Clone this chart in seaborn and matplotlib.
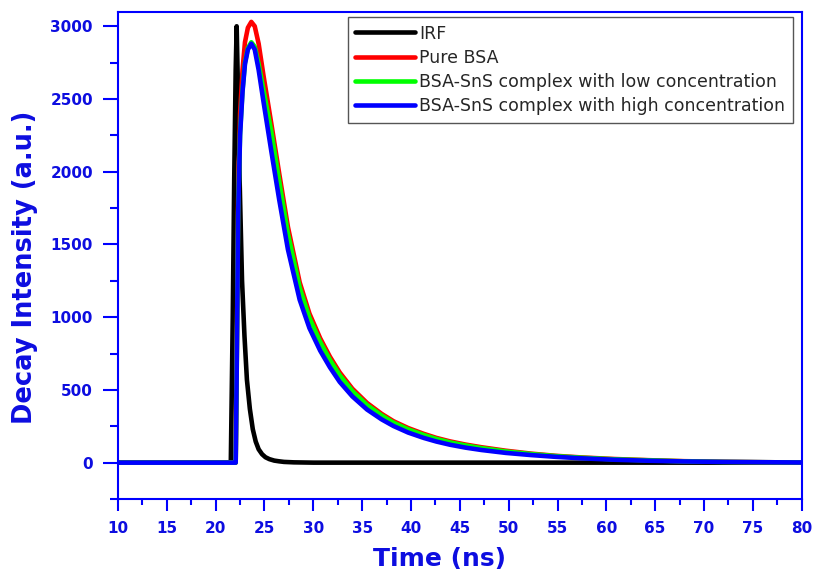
import matplotlib
matplotlib.use("Agg")
import matplotlib.pyplot as plt
import seaborn as sns
import pandas as pd
from matplotlib.ticker import MultipleLocator

# ---------------- data ----------------
series_names = [
    "IRF",
    "Pure BSA",
    "BSA-SnS complex with low concentration",
    "BSA-SnS complex with high concentration",
]
series_colors = ["#000000", "#ff0000", "#00ff00", "#0000ff"]

irf_time = [10, 21.55, 21.75, 21.9, 22.05, 22.15, 22.3, 22.45, 22.7, 22.95,
            23.2, 23.5, 23.8, 24.1, 24.4, 24.75, 25.1, 25.5, 26.0, 26.5,
            27.0, 28.0, 30.0, 80.0]
irf_counts = [0, 0, 1000, 1950, 2700, 3000, 2500, 1950, 1250, 870,
              570, 370, 230, 145, 92, 58, 37, 24, 14, 9,
              5, 2, 0, 0]

decay_time = [10, 22.05, 22.15, 22.3, 22.5, 22.75, 23.0, 23.3, 23.65, 24.0,
              24.4, 24.9, 25.7, 26.5, 27.4, 28.6, 29.6, 30.7, 31.7, 32.7,
              34.0, 35.5, 37.0, 38.2, 39.7, 41.3, 42.6, 44.0, 45.6, 47.2,
              49.7, 52.3, 54.8, 57.4, 60.8, 64.3, 68, 72, 76, 80]
pure_bsa = [0, 0, 650, 1800, 2400, 2700, 2890, 2990, 3030, 3000,
            2880, 2660, 2330, 1990, 1620, 1240, 1025, 855, 728, 620,
            508, 410, 335, 285, 238, 198, 170, 146, 124, 106,
            82, 62, 47, 36, 25, 17, 10, 6, 3, 1]
low_conc = [0, 0, 600, 1720, 2270, 2560, 2750, 2850, 2890, 2860,
            2740, 2560, 2275, 1936, 1573, 1204, 995, 830, 706, 601,
            492, 396, 324, 275, 229, 190, 163, 139, 118, 100,
            77, 59, 45, 34, 23, 16, 9, 5, 3, 1]
high_conc = [0, 0, 600, 1700, 2250, 2550, 2740, 2840, 2880, 2840,
             2700, 2480, 2140, 1810, 1465, 1120, 925, 770, 655, 555,
             455, 365, 297, 252, 207, 170, 145, 123, 103, 87,
             67, 52, 40, 30, 20, 13, 8, 5, 3, 1]

x_ticks = list(range(10, 81, 5))
y_ticks = list(range(0, 3001, 500))

# ---------------- build long table ----------------
frames = [pd.DataFrame({"t": irf_time, "v": irf_counts, "series": series_names[0]})]
for name, vals in zip(series_names[1:], [pure_bsa, low_conc, high_conc]):
    frames.append(pd.DataFrame({"t": decay_time, "v": vals, "series": name}))
df = pd.concat(frames, ignore_index=True)

# ---------------- plot ----------------
sns.set_style("ticks")
plt.rcParams["font.family"] = ["DejaVu Sans"]

blue = "#0000ff"
txt_blue = "#0d0de0"

fig = plt.figure(figsize=(8.14, 5.72), dpi=100)
ax = fig.add_axes([0.14496, 0.12762, 0.8399, 0.8519])

sns.lineplot(data=df, x="t", y="v", hue="series", hue_order=series_names,
             palette=dict(zip(series_names, series_colors)), sort=False,
             estimator=None, linewidth=3.3, ax=ax, legend=True)
for ln in ax.get_lines():
    ln.set_solid_joinstyle("round")
    ln.set_solid_capstyle("round")

ax.set_xlim(10, 80)
ax.set_ylim(-250, 3100)
ax.set_xticks(x_ticks)
ax.set_yticks(y_ticks)
ax.xaxis.set_minor_locator(MultipleLocator(2.5))
ax.yaxis.set_minor_locator(MultipleLocator(250))

for sp in ax.spines.values():
    sp.set_color(blue)
    sp.set_linewidth(1.5)
    sp.set_visible(True)

ax.tick_params(axis="x", which="major", direction="out", length=8.5, width=1.5,
               color=blue, labelcolor=txt_blue, labelsize=11, pad=7)
ax.tick_params(axis="x", which="minor", direction="out", length=4.5, width=1.5, color=blue)
ax.tick_params(axis="y", which="major", direction="out", length=10.5, width=1.5,
               color=blue, labelcolor=txt_blue, labelsize=11, pad=7.5)
ax.tick_params(axis="y", which="minor", direction="out", length=5.8, width=1.5, color=blue)
for lab in ax.get_xticklabels() + ax.get_yticklabels():
    lab.set_fontweight("bold")

ax.set_xlabel("Time (ns)", fontsize=18, fontweight="bold", color=txt_blue)
ax.set_ylabel("Decay Intensity (a.u.)", fontsize=18.5, fontweight="bold", color=txt_blue)
ax.xaxis.set_label_coords(0.470, -0.099)
ax.yaxis.set_label_coords(-0.1176, 0.475)

handles, labels = ax.get_legend_handles_labels()
leg = ax.legend(handles, labels, loc="upper right",
                bbox_to_anchor=(0.9742, 0.9708), bbox_transform=fig.transFigure,
                borderaxespad=0, fancybox=False, framealpha=1, edgecolor="#555555",
                prop={"size": 12.5}, handlelength=3.45, handletextpad=0.22,
                labelspacing=0.36, borderpad=0.45)
leg.get_frame().set_linewidth(1.0)
for h in leg.get_lines():
    h.set_linewidth(3.3)

fig.savefig("out.png", dpi=100)
